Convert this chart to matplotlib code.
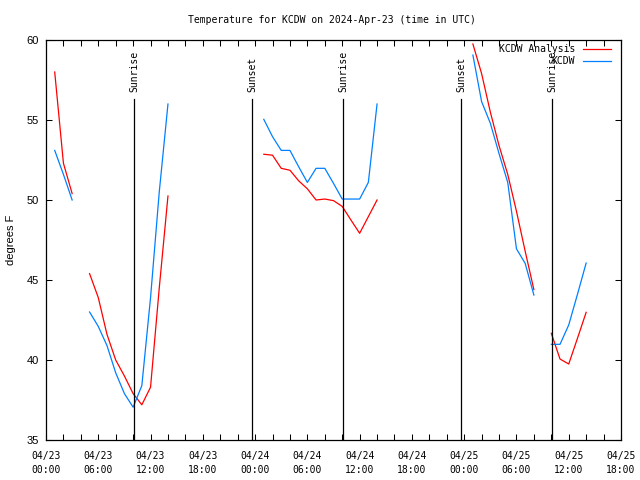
import numpy as np
import pandas as pd
import matplotlib
matplotlib.use("Agg")
import matplotlib.pyplot as plt
import matplotlib.dates as mdates

# hourly values from 2024-04-23 01:00 UTC, NaN = no data
hours = np.arange(1, 63)
analysis = [58.0, 52.3, 50.4, np.nan, 45.4, 43.9, 41.6, 40.0, 39.0, 37.9, 37.2, 38.3, 44.5, 50.25,
            np.nan, np.nan, np.nan, np.nan, np.nan, np.nan, np.nan, np.nan, np.nan, np.nan,
            52.86, 52.8, 51.98, 51.86, 51.2, 50.7, 50.0, 50.06, 49.96, 49.6, 48.75, 47.92, 48.96, 50.0,
            np.nan, np.nan, np.nan, np.nan, np.nan, np.nan, np.nan, np.nan, np.nan, np.nan,
            59.75, 57.9, 55.5, 53.4, 51.6, 49.3, 46.8, 44.4, np.nan, 41.67, 40.06, 39.75, 41.35, 42.98]
observed = [53.1, 51.6, 50.0, np.nan, 43.0, 42.1, 40.9, 39.2, 37.9, 37.05, 38.4, 43.9, 50.5, 56.0,
            np.nan, np.nan, np.nan, np.nan, np.nan, np.nan, np.nan, np.nan, np.nan, np.nan,
            55.04, 53.96, 53.1, 53.1, 52.08, 51.1, 51.98, 51.98, 51.04, 50.06, 50.06, 50.06, 51.1, 56.0,
            np.nan, np.nan, np.nan, np.nan, np.nan, np.nan, np.nan, np.nan, np.nan, np.nan,
            59.06, 56.15, 54.8, 52.9, 51.1, 46.95, 46.04, 44.06, np.nan, 40.98, 40.98, 42.19, 44.1, 46.06]

sun_times = ["2024-04-23 10:06", "2024-04-23 23:39", "2024-04-24 10:06",
             "2024-04-24 23:39", "2024-04-25 10:06"]
sun_names = ["Sunrise", "Sunset", "Sunrise", "Sunset", "Sunrise"]

start = pd.Timestamp("2024-04-23 00:00")
times = start + pd.to_timedelta(hours, unit="h")

mono = "DejaVu Sans Mono"
fig = plt.figure(figsize=(6.4, 4.8), dpi=100)
ax = fig.add_axes([46/640, 40/480, 575/640, 400/480])

ax.plot(times, analysis, color="#ff0000", lw=0.9, label="KCDW Analysis")
ax.plot(times, observed, color="#0080ff", lw=0.9, label="KCDW")

for t, name in zip(sun_times, sun_names):
    tt = pd.Timestamp(t)
    ax.plot([tt, tt], [35, 56.3], color="black", lw=0.9)
    ax.text(tt, 56.75, name, rotation=90, ha="center", va="bottom",
            fontsize=7, family=mono)

ax.set_xlim(start, start + pd.Timedelta(hours=66))
ax.set_ylim(35, 60)
ax.set_yticks([35, 40, 45, 50, 55, 60])
ax.xaxis.set_major_locator(mdates.HourLocator(byhour=[0, 6, 12, 18]))
ax.xaxis.set_minor_locator(mdates.HourLocator(interval=2))
ax.xaxis.set_major_formatter(mdates.DateFormatter("%m/%d\n%H:%M"))

ax.tick_params(which="both", direction="in", top=True, right=True, length=4, width=0.75)
ax.tick_params(axis="x", pad=8)
ax.tick_params(axis="y", pad=5)
for lab in ax.get_xticklabels():
    lab.set_family(mono)
    lab.set_fontsize(7)
    lab.set_linespacing(1.45)
for lab in ax.get_yticklabels():
    lab.set_family("Liberation Sans")
    lab.set_fontsize(8)
for sp in ax.spines.values():
    sp.set_linewidth(0.9)

ax.set_ylabel("degrees F", family="Liberation Sans", fontsize=8)
ax.yaxis.set_label_coords(-0.053, 0.5)

fig.text(332/640, 1 - 20/480, "Temperature for KCDW on 2024-Apr-23 (time in UTC)",
         ha="center", va="center", fontsize=7, family=mono)

ax.legend(loc="upper right", bbox_to_anchor=(611/640, 1 - 44/480),
          bbox_transform=fig.transFigure, frameon=False, markerfirst=False,
          prop={"family": mono, "size": 7}, handlelength=2.9, handletextpad=0.8,
          labelspacing=0.25, borderpad=0, borderaxespad=0)

fig.savefig("out.png", dpi=100)
